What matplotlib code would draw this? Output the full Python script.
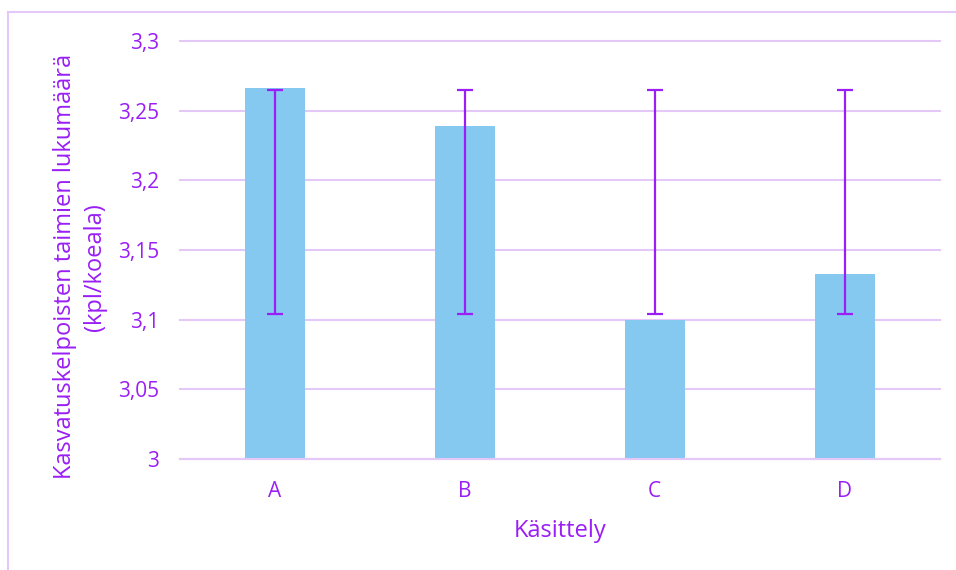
import matplotlib.pyplot as plt
from matplotlib.patches import Rectangle

plt.rcParams['font.family'] = ['Open Sans', 'DejaVu Sans']

categories = ['A', 'B', 'C', 'D']
values = [3.266, 3.239, 3.100, 3.133]
err_bottom = [3.104, 3.104, 3.104, 3.104]
err_top = [3.265, 3.265, 3.265, 3.265]
y_ticks = [3.0, 3.05, 3.1, 3.15, 3.2, 3.25, 3.3]
y_tick_labels = ['3', '3,05', '3,1', '3,15', '3,2', '3,25', '3,3']

text_color = '#9A1EF5'
bar_color = '#85C8F0'
grid_color = '#E4C8F8'

fig = plt.figure(figsize=(9.56, 5.7), dpi=100)
ax = fig.add_axes([0.188, 0.195, 0.795, 0.733])

# outer chart border (cropped at right and bottom in the reference)
fig.patches.append(Rectangle((8 / 956, -0.05), 1.2, 1 - 12 / 570 + 0.05,
                             transform=fig.transFigure, fill=False,
                             edgecolor=grid_color, linewidth=1.5))

x = range(len(categories))
ax.bar(x, values, width=0.315, color=bar_color, zorder=2)

# error bars are drawn from their bottom/top ends
centers = [(b + t) / 2 for b, t in zip(err_bottom, err_top)]
half = [(t - b) / 2 for b, t in zip(err_bottom, err_top)]
ax.errorbar(x, centers, yerr=half, fmt='none', ecolor=text_color,
            elinewidth=1.6, capsize=6, capthick=1.6, zorder=3)

ax.set_xlim(-0.5, len(categories) - 0.5)
ax.set_ylim(3.0, 3.3)
ax.set_yticks(y_ticks)
ax.set_yticklabels(y_tick_labels)
ax.set_xticks(list(x))
ax.set_xticklabels(categories)
ax.tick_params(axis='both', length=0, labelsize=15, colors=text_color)
ax.tick_params(axis='y', pad=15)
ax.tick_params(axis='x', pad=16)

ax.yaxis.grid(True, color=grid_color, linewidth=1.5, zorder=0)
for gl in ax.get_ygridlines():
    gl.set_clip_on(False)
ax.set_axisbelow(True)
for s in ['top', 'right', 'left']:
    ax.spines[s].set_visible(False)
ax.spines['bottom'].set_color(grid_color)
ax.spines['bottom'].set_linewidth(1.5)

ax.set_ylabel('Kasvatuskelpoisten taimien lukumäärä\n(kpl/koeala)',
              color=text_color, fontsize=17, linespacing=1.3)
ax.yaxis.set_label_coords(-0.096, 0.46)
ax.set_xlabel('Käsittely', color=text_color, fontsize=17, labelpad=12)

fig.savefig('out.png', dpi=100)
